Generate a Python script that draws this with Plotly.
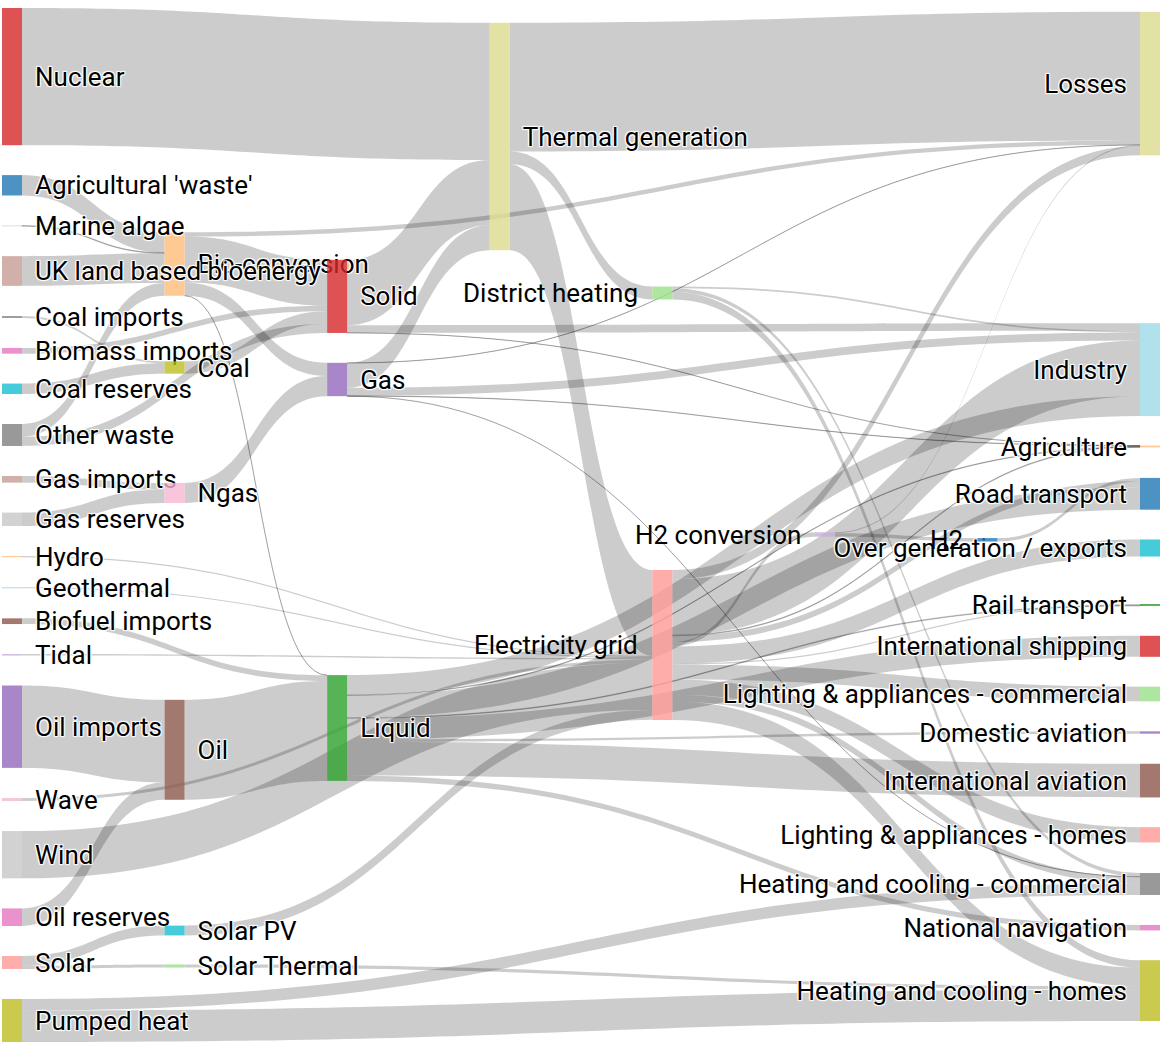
import plotly.graph_objects as go

# ---------------- data ----------------
labels = ["Agricultural 'waste'", "Bio-conversion", "Liquid", "Losses", "Solid", "Gas",
          "Biofuel imports", "Biomass imports", "Coal imports", "Coal", "Coal reserves",
          "District heating", "Industry", "Heating and cooling - commercial",
          "Heating and cooling - homes", "Electricity grid", "Over generation / exports",
          "H2 conversion", "Road transport", "Agriculture", "Rail transport",
          "Lighting & appliances - commercial", "Lighting & appliances - homes",
          "Gas imports", "Ngas", "Gas reserves", "Thermal generation", "Geothermal", "H2",
          "Hydro", "International shipping", "Domestic aviation", "International aviation",
          "National navigation", "Marine algae", "Nuclear", "Oil imports", "Oil",
          "Oil reserves", "Other waste", "Pumped heat", "Solar PV", "Solar Thermal", "Solar",
          "Tidal", "UK land based bioenergy", "Wave", "Wind"]

sources = [0, 1, 1, 1, 1, 6, 7, 8, 10, 9, 11, 11, 11, 15, 15, 15, 15, 15, 15, 15, 15, 15,
           15, 15, 23, 25, 5, 5, 5, 5, 5, 27, 17, 17, 28, 29, 2, 2, 2, 2, 2, 2, 2, 2, 34, 24,
           35, 36, 38, 37, 39, 39, 40, 40, 41, 42, 43, 43, 4, 4, 4, 26, 26, 26, 44, 45, 46, 47]
targets = [1, 2, 3, 4, 5, 2, 4, 9, 9, 4, 12, 13, 14, 16, 14, 17, 12, 18, 19, 13, 3, 20, 21,
           22, 24, 24, 13, 3, 26, 19, 12, 15, 28, 3, 18, 15, 12, 30, 18, 31, 32, 19, 33, 20,
           1, 5, 26, 37, 37, 2, 4, 1, 14, 13, 15, 14, 42, 41, 19, 26, 12, 15, 3, 11, 15, 1,
           15, 15]
values = [124.729, 0.597, 26.862, 280.322, 81.144, 35, 35, 11.606, 63.965, 75.571, 10.639,
          22.505, 46.184, 104.453, 113.726, 27.14, 342.165, 37.797, 4.412, 40.858, 56.691,
          7.863, 90.008, 93.494, 40.719, 82.233, 0.129, 1.401, 151.891, 2.096, 48.58, 7.013,
          20.897, 6.242, 20.897, 6.995, 121.066, 128.69, 135.835, 14.458, 206.267, 3.64,
          33.218, 4.413, 4.375, 122.952, 839.978, 504.287, 107.703, 611.99, 56.587, 77.81,
          193.026, 70.672, 59.901, 19.263, 19.263, 59.901, 0.882, 400.12, 46.477, 525.531,
          787.129, 79.329, 9.452, 182.01, 19.013, 289.366]

# ---------------- styles ----------------
palette = ["#1f77b4", "#aec7e8", "#ff7f0e", "#ffbb78", "#2ca02c", "#98df8a", "#d62728",
           "#ff9896", "#9467bd", "#c5b0d5", "#8c564b", "#c49c94", "#e377c2", "#f7b6d2",
           "#7f7f7f", "#c7c7c7", "#bcbd22", "#dbdb8d", "#17becf", "#9edae5"]
color_index = [0, 3, 4, 17, 6, 8, 10, 12, 14, 16, 18, 5, 19, 14, 16, 7, 18, 9, 0, 3, 4, 5, 7,
               11, 13, 15, 17, 19, 0, 3, 6, 8, 10, 12, 1, 6, 8, 10, 12, 14, 16, 18, 5, 7, 9,
               11, 13, 15]

# ---------------- node layout (column, vertical centre in page px) ----------------
node_place = {
    "Nuclear": (0, 76.6), "Agricultural 'waste'": (0, 185.3), "Marine algae": (0, 225.9),
    "UK land based bioenergy": (0, 271.0), "Coal imports": (0, 317.0),
    "Biomass imports": (0, 350.8), "Coal reserves": (0, 388.8), "Other waste": (0, 435.0),
    "Gas imports": (0, 479.3), "Gas reserves": (0, 519.3), "Hydro": (0, 556.6),
    "Geothermal": (0, 587.8), "Biofuel imports": (0, 621.2), "Tidal": (0, 654.8),
    "Oil imports": (0, 726.7), "Wave": (0, 799.5), "Wind": (0, 854.7),
    "Oil reserves": (0, 917.2), "Solar": (0, 962.5), "Pumped heat": (0, 1020.5),
    "Bio-conversion": (1, 264.0), "Coal": (1, 367.5), "Ngas": (1, 493.0), "Oil": (1, 749.8),
    "Solar PV": (1, 930.5), "Solar Thermal": (1, 966.0),
    "Solid": (2, 296.4), "Gas": (2, 379.5), "Liquid": (2, 728.0),
    "Thermal generation": (3, 136.5),
    "District heating": (4, 293.0), "Electricity grid": (4, 645.0),
    "H2 conversion": (5, 534.5),
    "H2": (6, 539.8),
    "Losses": (7, 83.6), "Industry": (7, 369.6), "Agriculture": (7, 446.5),
    "Road transport": (7, 493.8), "Over generation / exports": (7, 548.0),
    "Rail transport": (7, 605.0), "International shipping": (7, 646.3),
    "Lighting & appliances - commercial": (7, 694.0), "Domestic aviation": (7, 732.5),
    "International aviation": (7, 780.6), "Lighting & appliances - homes": (7, 834.8),
    "Heating and cooling - commercial": (7, 884.0), "National navigation": (7, 927.7),
    "Heating and cooling - homes": (7, 990.6),
}

W, H = 1164, 1048
ML, MR, MT, MB = 2, 4, 8, 6
THICK = 20
LINE_W = 20                      # invisible node outline: pushes labels away from nodes
LABEL_GAP = LINE_W / 2 + 3
DW, DH = W - ML - MR, H - MT - MB
COLS = 7
col_step = (DW - THICK) / COLS
FONT = dict(family="Roboto", size=26, color="black")

node_x = [(THICK / 2 + node_place[l][0] * col_step) / DW for l in labels]
node_y = [(node_place[l][1] - MT) / DH for l in labels]

# middle-right columns carry their label on the left side of the node
left_label_cols = {4, 5, 6}
shown_labels = ["" if node_place[l][0] in left_label_cols else l for l in labels]

annotations = []
for l in labels:
    col, yc = node_place[l]
    if col in left_label_cols:
        x0 = col * col_step  # node left edge within the domain
        annotations.append(dict(
            text=l, xref="paper", yref="paper",
            x=(x0 - LABEL_GAP) / DW, y=1 - (yc - MT) / DH,
            xanchor="right", yanchor="middle", showarrow=False,
            font=FONT, borderpad=0,
        ))


def rgba(hex_color, alpha):
    h = hex_color.lstrip("#")
    r, g, b = int(h[0:2], 16), int(h[2:4], 16), int(h[4:6], 16)
    return f"rgba({r},{g},{b},{alpha})"


node_colors = [rgba(palette[i], 0.8) for i in color_index]

fig = go.Figure(go.Sankey(
    arrangement="fixed",
    hoverinfo="skip",
    node=dict(
        label=shown_labels,
        color=node_colors,
        pad=30,
        thickness=THICK,
        x=node_x,
        y=node_y,
        line=dict(color="rgba(255,255,255,0)", width=LINE_W),
        hoverinfo="skip",
    ),
    link=dict(
        source=sources,
        target=targets,
        value=values,
        color="rgba(0,0,0,0.2)",
        hoverinfo="skip",
    ),
))

fig.update_layout(
    width=W,
    height=H,
    margin=dict(l=ML, r=MR, t=MT, b=MB),
    font=FONT,
    paper_bgcolor="white",
    hovermode=False,
    annotations=annotations,
)

fig.write_html("out.html", config={"displayModeBar": False, "staticPlot": True},
               post_script="document.body.style.margin='0px';document.body.style.overflow='hidden';")
